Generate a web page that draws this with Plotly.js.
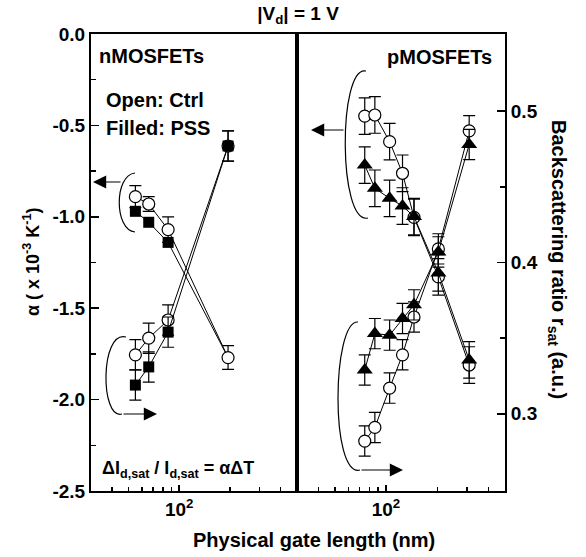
<!DOCTYPE html>
<html><head><meta charset="utf-8">
<script src="https://cdn.plot.ly/plotly-3.0.1.min.js"></script>
<style>html,body{margin:0;padding:0;background:#fff}</style>
</head><body><div id="chart" style="width:586px;height:557px"></div>
<script>
// ---------- data ----------
const nLength      = [55, 66, 86, 195];          // nm, nMOSFETs
const nAlphaCtrl   = [-0.89, -0.93, -1.07, -1.77];
const nAlphaCtrlEr = [0.06, 0.04, 0.07, 0.065];
const nAlphaPSS    = [-0.97, -1.03, -1.14, -1.77];
const nRsatCtrl    = [0.339, 0.350, 0.362, 0.477];
const nRsatPSS     = [0.319, 0.331, 0.354, 0.477];
const nRsatErr     = [0.01, 0.01, 0.01, 0.01];

const pLength      = [75, 86, 105, 125, 146, 203, 308];   // nm, pMOSFETs
const pAlphaCtrl   = [-0.449, -0.443, -0.589, -0.762, -1.003, -1.329, -1.811];
const pAlphaPSS    = [-0.717, -0.844, -0.899, -0.941, -0.999, -1.307, -1.783];
const pAlphaErr    = [0.1, 0.1, 0.1, 0.1, 0.1, 0.1, 0.1];
const pRsatCtrl    = [0.282, 0.291, 0.317, 0.339, 0.364, 0.409, 0.487];
const pRsatPSS     = [0.329, 0.353, 0.352, 0.363, 0.372, 0.407, 0.478];
const pRsatErr     = [0.01, 0.01, 0.01, 0.01, 0.01, 0.01, 0.01];

const xMajorTicks  = [100];
const xMajorText   = ['10<sup>2</sup>'];
const xMinorTicks  = [40, 50, 60, 70, 80, 90, 200, 300, 400];
const alphaTicks   = [0, -0.5, -1.0, -1.5, -2.0, -2.5];
const alphaText    = ['0.0', '-0.5', '-1.0', '-1.5', '-2.0', '-2.5'];
const alphaMinor   = [-0.25, -0.75, -1.25, -1.75, -2.25];
const rsatTicks    = [0.3, 0.4, 0.5];
const rsatText     = ['0.3', '0.4', '0.5'];
const rsatMinor    = [0.35, 0.45];

// ---------- styling ----------
const FONT = 'Liberation Sans, Arial, sans-serif';
const BLK = '#000';
const line = {color: BLK, width: 1};
const openCircle = {symbol: 'circle', size: 12, color: '#fff', opacity: 1, line: {color: BLK, width: 1.2}};
const square = {symbol: 'square', size: 11, color: BLK, opacity: 1, line: {color: BLK, width: 0}};
const tri = {symbol: 'triangle-up', size: 14, color: BLK, opacity: 1, line: {color: BLK, width: 0}};
function err(a) { return {type: 'data', array: a, visible: true, color: BLK, thickness: 1.2, width: 6}; }

const traces = [
  {x: nLength, y: nAlphaPSS, xaxis: 'x', yaxis: 'y', mode: 'lines+markers', line, marker: Object.assign({}, square, {size: [11, 11, 11, 7]})},
  {x: nLength, y: nAlphaCtrl, xaxis: 'x', yaxis: 'y', mode: 'lines+markers', line, marker: openCircle, error_y: err(nAlphaCtrlEr)},
  {x: nLength, y: nRsatCtrl, xaxis: 'x', yaxis: 'y3', mode: 'lines+markers', line, marker: openCircle, error_y: err(nRsatErr)},
  {x: nLength, y: nRsatPSS, xaxis: 'x', yaxis: 'y3', mode: 'lines+markers', line, marker: square, error_y: err(nRsatErr)},
  {x: pLength, y: pAlphaCtrl, xaxis: 'x2', yaxis: 'y4', mode: 'lines+markers', line, marker: openCircle, error_y: err(pAlphaErr)},
  {x: pLength, y: pAlphaPSS, xaxis: 'x2', yaxis: 'y4', mode: 'lines+markers', line, marker: tri, error_y: err(pAlphaErr)},
  {x: pLength, y: pRsatCtrl, xaxis: 'x2', yaxis: 'y2', mode: 'lines+markers', line, marker: openCircle, error_y: err(pRsatErr)},
  {x: pLength, y: pRsatPSS, xaxis: 'x2', yaxis: 'y2', mode: 'lines+markers', line, marker: tri, error_y: err(pRsatErr)}
];

const L = 91, R = 505, T = 34, B = 491;
const PX = v => (v - L) / (R - L);
const PY = v => (B - v) / (B - T);
const split = PX(297);
const tickFont = {family: FONT, size: 19, color: BLK, weight: 'bold'};
const xRange = [Math.log10(30), Math.log10(500)];

function xAx(domain, anchor) {
  return {domain, anchor, type: 'log', range: xRange, showline: true, mirror: true, linewidth: 2, linecolor: BLK,
    ticks: 'inside', ticklen: 6, tickwidth: 1.5, tickcolor: BLK, tickmode: 'array', tickvals: xMajorTicks, ticktext: xMajorText,
    minor: {tickvals: xMinorTicks, ticks: 'inside', ticklen: 4, tickwidth: 1.5, tickcolor: BLK, showgrid: false},
    showgrid: false, zeroline: false, tickfont: tickFont};
}

function arc(x0, y0, c1x, c1y, c2x, c2y, x1, y1) {
  return {type: 'path', xref: 'paper', yref: 'paper', line: {color: BLK, width: 1.2},
    path: `M ${PX(x0)} ${PY(y0)} C ${PX(c1x)} ${PY(c1y)}, ${PX(c2x)} ${PY(c2y)}, ${PX(x1)} ${PY(y1)}`};
}
function arrow(tipX, tipY, tailDx) {
  return {xref: 'paper', yref: 'paper', x: PX(tipX), y: PY(tipY), ax: tailDx, ay: 0, text: '', showarrow: true,
    arrowhead: 2, arrowsize: 2.2, arrowwidth: 1.2, arrowcolor: BLK, standoff: 0, startstandoff: 0};
}
function txt(text, x, y, xanchor, size, extra) {
  return Object.assign({xref: 'paper', yref: 'paper', x: PX(x), y: PY(y), xanchor, yanchor: 'middle', text, showarrow: false,
    font: {family: FONT, size, color: BLK, weight: 'bold'}}, extra || {});
}

const layout = {
  width: 586, height: 557, margin: {l: L, r: 586 - R, t: T, b: 557 - B, pad: 0},
  paper_bgcolor: '#fff', plot_bgcolor: 'rgba(0,0,0,0)', showlegend: false,
  title: {text: '|V<sub>d</sub>| = 1 V', xref: 'paper', x: 0.5, xanchor: 'center', yref: 'container', y: 1 - 13 / 557, yanchor: 'middle',
    font: {family: FONT, size: 19, color: BLK, weight: 'bold'}},
  xaxis: xAx([0, split], 'y'),
  xaxis2: xAx([split, 1], 'y2'),
  yaxis: {domain: [0, 1], anchor: 'x', range: [-2.5, 0], showline: true, mirror: true, linewidth: 2, linecolor: BLK,
    ticks: 'inside', ticklen: 8, tickwidth: 1.5, tickcolor: BLK, tickmode: 'array', tickvals: alphaTicks, ticktext: alphaText,
    minor: {tickvals: alphaMinor, ticks: 'inside', ticklen: 5, tickwidth: 1.5, tickcolor: BLK, showgrid: false},
    showgrid: false, zeroline: false, tickfont: tickFont},
  yaxis2: {domain: [0, 1], anchor: 'x2', side: 'right', range: [0.249, 0.551], showline: true, mirror: true, linewidth: 2, linecolor: BLK,
    ticks: 'inside', ticklen: 8, tickwidth: 1.5, tickcolor: BLK, tickmode: 'array', tickvals: rsatTicks, ticktext: rsatText,
    minor: {tickvals: rsatMinor, ticks: 'inside', ticklen: 5, tickwidth: 1.5, tickcolor: BLK, showgrid: false},
    showgrid: false, zeroline: false, tickfont: tickFont},
  yaxis3: {overlaying: 'y', anchor: 'x', range: [0.249, 0.551], visible: false, showgrid: false, zeroline: false},
  yaxis4: {overlaying: 'y2', anchor: 'x2', range: [-2.5, 0], visible: false, showgrid: false, zeroline: false},
  shapes: [
    arc(135, 173, 114, 175, 114, 230, 135, 232),
    arc(126, 337, 100, 330, 100, 420, 122, 414),
    arc(366, 71, 338, 65, 338, 225, 368, 218),
    arc(358, 322, 332, 320, 330, 478, 360, 470)
  ],
  annotations: [
    arrow(93, 182, 29),
    arrow(157, 414, -35),
    arrow(311, 130, 34),
    arrow(403, 470, -43),
    txt('nMOSFETs', 97, 56, 'left', 20),
    txt('Open: Ctrl', 104, 100, 'left', 20),
    txt('Filled: PSS', 104, 128, 'left', 20),
    txt('ΔI<sub>d,sat</sub> / I<sub>d,sat</sub> = αΔT', 100, 469, 'left', 18),
    txt('pMOSFETs', 494, 57, 'right', 20),
    txt('α ( x 10<sup>-3</sup> K<sup>-1</sup>)', 31, 262, 'center', 18, {textangle: -90}),
    txt('Backscattering ratio r<sub>sat</sub> (a.u.)', 558, 259, 'center', 20, {textangle: 90}),
    txt('Physical gate length (nm)', 314, 540, 'center', 20)
  ]
};

Plotly.newPlot('chart', traces, layout, {displayModeBar: false, staticPlot: true});
</script></body></html>
